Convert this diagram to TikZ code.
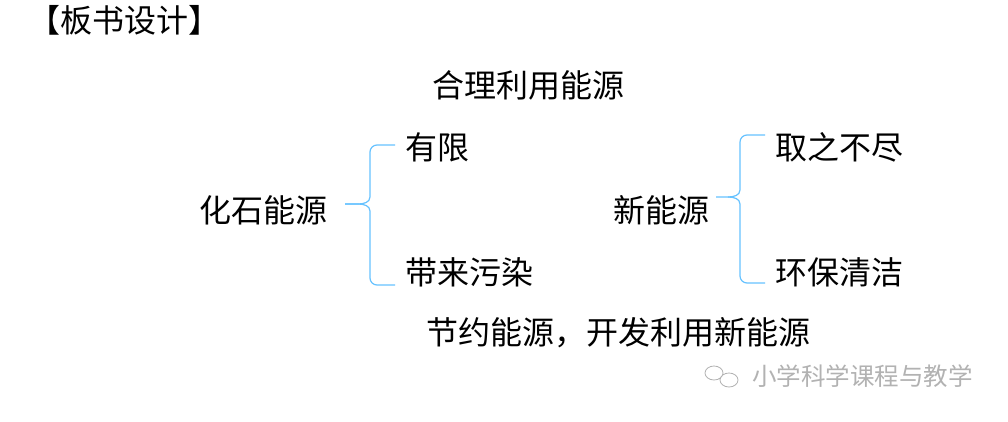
\documentclass[tikz,border=0pt]{standalone}
\usepackage{fontspec}
\newfontfamily\cjk{Noto Sans CJK SC}
\begin{document}
\begin{tikzpicture}[x=1pt,y=-1pt,
  txt/.style={font=\cjk\fontsize{32}{34}\selectfont,inner sep=0pt},
  brace/.style={draw=blue!40!cyan!60!white,line width=1.2pt}]
\useasboundingbox[fill=white] (0,0) rectangle (1008,421);
\node[txt,anchor=west] (title) at (28,20) {【板书设计】};
\node[txt] (top) at (528,85) {合理利用能源};
\node[txt] (fossil) at (263,210) {化石能源};
\node[txt,anchor=west] (lim) at (405,147) {有限};
\node[txt,anchor=west] (pol) at (405,272) {带来污染};
\node[txt,anchor=west] (new) at (613,210) {新能源};
\node[txt,anchor=west] (inf) at (775,147) {取之不尽};
\node[txt,anchor=west] (cln) at (775,272) {环保清洁};
\node[txt] (bot) at (618,333) {节约能源，开发利用新能源};
\node[inner sep=0pt,anchor=west,text=gray!60,font=\cjk\fontsize{24.5}{26}\selectfont] (wm) at (752,376) {小学科学课程与教学};
\draw[gray!60,line width=0.8pt] (714,373) ellipse (9 and 7) (729,380) ellipse (9 and 7);
\coordinate (lt) at (345,204);
\coordinate (rt) at (716,197);
\draw[brace] (395,145) -- (377,145) to[out=180,in=90] (370,152) -- (370,197) to[out=270,in=0] (358,204) -- (lt);
\draw[brace] (lt) -- (358,204) to[out=0,in=90] (370,211) -- (370,278) to[out=270,in=180] (377,285) -- (395,285);
\draw[brace] (765,135) -- (747,135) to[out=180,in=90] (740,142) -- (740,190) to[out=270,in=0] (728,197) -- (rt);
\draw[brace] (728,197) to[out=0,in=90] (740,204) -- (740,276) to[out=270,in=180] (747,283) -- (765,283);
\end{tikzpicture}
\end{document}
